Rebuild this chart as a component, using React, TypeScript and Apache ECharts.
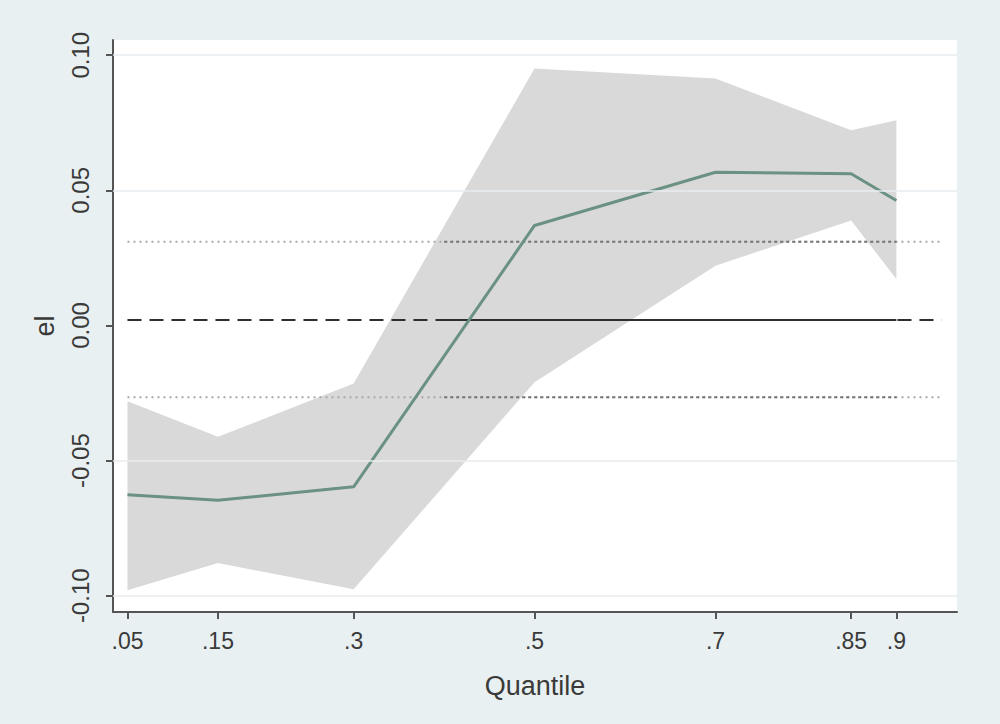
import React, { useEffect, useRef } from "react";
import * as echarts from "echarts";

const quantiles = [0.05, 0.15, 0.3, 0.5, 0.7, 0.85, 0.9];
const coef = [-0.0626, -0.0647, -0.0597, 0.037, 0.0567, 0.0561, 0.0462];
const upper = [-0.028, -0.0412, -0.0215, 0.0951, 0.0914, 0.0722, 0.0759];
const lower = [-0.098, -0.0879, -0.0976, -0.021, 0.0221, 0.0388, 0.0172];

const olsCoef = 0.002;
const olsUpper = 0.031;
const olsLower = -0.0266;
const olsRange = [0.05, 0.95];
const olsInner = [0.4, 0.9];

const yTicks = [-0.1, -0.05, 0, 0.05, 0.1];
const gridTicks = [-0.1, -0.05, 0.05, 0.1];

const FONT = "Liberation Sans, Arial, sans-serif";

export default function App() {
  const ref = useRef<HTMLDivElement>(null);
  useEffect(() => {
    if (!ref.current) return;
    const chart = echarts.init(ref.current, undefined, { renderer: "svg" });
    const hline = (y: number, range: number[]) => range.map((x) => [x, y]);
    const bandPoints = [
      ...quantiles.map((q, i) => [q, upper[i]]),
      ...quantiles.map((q, i) => [q, lower[i]]).reverse(),
    ];
    const option: any = {
      animation: false,
      backgroundColor: "#e9f0f1",
      textStyle: { fontFamily: FONT },
      grid: {
        left: 113,
        top: 40,
        width: 844,
        height: 572,
        show: true,
        backgroundColor: "#ffffff",
        borderWidth: 0,
      },
      xAxis: {
        type: "value",
        min: 0.034,
        max: 0.967,
        name: "Quantile",
        nameLocation: "middle",
        nameGap: 60,
        nameTextStyle: { fontSize: 27, color: "#3a3a3a", fontFamily: FONT },
        axisLine: { show: true, onZero: false, lineStyle: { color: "#555", width: 2 } },
        axisTick: {
          show: true,
          length: 7,
          customValues: quantiles,
          lineStyle: { color: "#555", width: 2 },
        },
        axisLabel: {
          customValues: quantiles,
          margin: 17,
          fontSize: 23,
          color: "#3a3a3a",
          fontFamily: FONT,
          formatter: (v: number) => String(v).replace(/^0/, ""),
        },
        splitLine: { show: false },
      },
      yAxis: {
        type: "value",
        min: -0.106,
        max: 0.1056,
        name: "el",
        nameLocation: "middle",
        nameGap: 55,
        nameRotate: 90,
        nameTextStyle: { fontSize: 27, color: "#3a3a3a", fontFamily: FONT },
        axisLine: { show: true, onZero: false, lineStyle: { color: "#555", width: 2 } },
        axisTick: {
          show: true,
          length: 7,
          customValues: yTicks,
          lineStyle: { color: "#555", width: 2 },
        },
        axisLabel: {
          customValues: yTicks,
          rotate: 90,
          margin: 21,
          fontSize: 24,
          color: "#3a3a3a",
          fontFamily: FONT,
          formatter: (v: number) => v.toFixed(2),
        },
        splitLine: { show: false },
      },
      series: [
        {
          type: "line",
          name: "grid",
          data: [],
          silent: true,
          markLine: {
            symbol: "none",
            silent: true,
            label: { show: false },
            lineStyle: { color: "#e8edef", width: 1.5, type: "solid" },
            data: gridTicks.map((y) => ({ yAxis: y })),
          },
        },
        {
          type: "custom",
          name: "band",
          silent: true,
          data: [0],
          renderItem: (params: any, api: any) => ({
            type: "polygon",
            shape: { points: bandPoints.map((p) => api.coord(p)) },
            style: { fill: "#d9d9d9" },
          }),
        },
        {
          type: "line",
          data: hline(olsUpper, olsRange),
          symbol: "none",
          lineStyle: { color: "#a8a8a8", width: 2, type: [2, 4] },
        },
        {
          type: "line",
          data: hline(olsLower, olsRange),
          symbol: "none",
          lineStyle: { color: "#a8a8a8", width: 2, type: [2, 4] },
        },
        {
          type: "line",
          data: hline(olsUpper, olsInner),
          symbol: "none",
          lineStyle: { color: "#7a7a7a", width: 2, type: [3, 3] },
        },
        {
          type: "line",
          data: hline(olsLower, olsInner),
          symbol: "none",
          lineStyle: { color: "#7a7a7a", width: 2, type: [3, 3] },
        },
        {
          type: "line",
          data: hline(olsCoef, olsRange),
          symbol: "none",
          lineStyle: { color: "#2e2e2e", width: 2, type: [14, 8] },
        },
        {
          type: "line",
          data: hline(olsCoef, olsInner),
          symbol: "none",
          lineStyle: { color: "#2e2e2e", width: 2, type: "solid" },
        },
        {
          type: "line",
          name: "coef",
          data: quantiles.map((q, i) => [q, coef[i]]),
          symbol: "none",
          lineStyle: { color: "#6a9184", width: 3 },
        },
      ],
    };
    chart.setOption(option);
    return () => chart.dispose();
  }, []);
  return (
    <div
      ref={ref}
      style={{ position: "fixed", left: 0, top: 0, width: 1000, height: 724 }}
    />
  );
}
